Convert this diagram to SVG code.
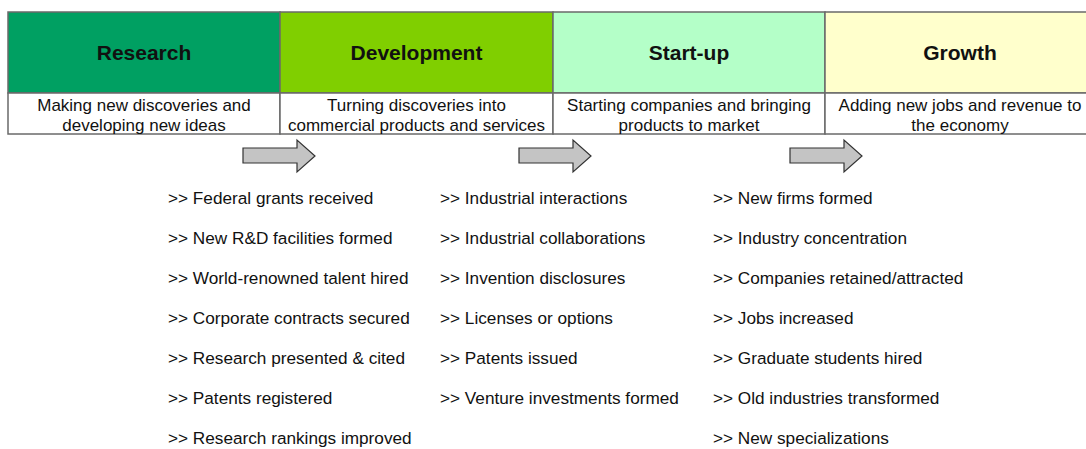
<svg xmlns="http://www.w3.org/2000/svg" width="1086" height="449" viewBox="0 0 1086 449">
<style>
.hd{font-family:"Liberation Sans",Arial,sans-serif;font-weight:bold;font-size:21px;fill:#111;text-anchor:middle}
.sub{font-family:"Liberation Sans",Arial,sans-serif;font-size:17px;fill:#111;text-anchor:middle}
.li{font-family:"Liberation Sans",Arial,sans-serif;font-size:17.2px;fill:#111}
.cell{stroke:#6a6a6a;stroke-width:1.5}
.arr{fill:#c4c4c4;stroke:#333;stroke-width:1.2}
</style>
<rect width="1086" height="449" fill="#ffffff"/>
<g id="research">
<rect class="cell" x="8" y="12" width="272" height="81" fill="#00a062"/>
<rect class="cell" x="8" y="93" width="272" height="41" fill="#ffffff"/>
<text class="hd" x="144" y="60">Research</text>
<text class="sub" x="144" y="111">Making new discoveries and</text>
<text class="sub" x="144" y="131">developing new ideas</text>
</g>
<g id="development">
<rect class="cell" x="280" y="12" width="273" height="81" fill="#80cf00"/>
<rect class="cell" x="280" y="93" width="273" height="41" fill="#ffffff"/>
<text class="hd" x="416.5" y="60">Development</text>
<text class="sub" x="416.5" y="111">Turning discoveries into</text>
<text class="sub" x="416.5" y="131">commercial products and services</text>
</g>
<g id="startup">
<rect class="cell" x="553" y="12" width="272" height="81" fill="#b4ffc8"/>
<rect class="cell" x="553" y="93" width="272" height="41" fill="#ffffff"/>
<text class="hd" x="689" y="60">Start-up</text>
<text class="sub" x="689" y="111">Starting companies and bringing</text>
<text class="sub" x="689" y="131">products to market</text>
</g>
<g id="growth">
<rect class="cell" x="825" y="12" width="280" height="81" fill="#ffffcc"/>
<rect class="cell" x="825" y="93" width="280" height="41" fill="#ffffff"/>
<text class="hd" x="960" y="60">Growth</text>
<text class="sub" x="960" y="111">Adding new jobs and revenue to</text>
<text class="sub" x="960" y="131">the economy</text>
</g>
<g id="connectors">
<polygon class="arr" points="243,148 297,148 297,140 315,156 297,172 297,163 243,163"/>
<polygon class="arr" points="519,148 573,148 573,140 591,156 573,172 573,163 519,163"/>
<polygon class="arr" points="790,148 844,148 844,140 862,156 844,172 844,163 790,163"/>
</g>
<g id="research-metrics">
<text class="li" x="168" y="204">&gt;&gt; Federal grants received</text>
<text class="li" x="168" y="244">&gt;&gt; New R&amp;D facilities formed</text>
<text class="li" x="168" y="284">&gt;&gt; World-renowned talent hired</text>
<text class="li" x="168" y="324">&gt;&gt; Corporate contracts secured</text>
<text class="li" x="168" y="364">&gt;&gt; Research presented &amp; cited</text>
<text class="li" x="168" y="404">&gt;&gt; Patents registered</text>
<text class="li" x="168" y="444">&gt;&gt; Research rankings improved</text>
</g>
<g id="development-metrics">
<text class="li" x="440" y="204">&gt;&gt; Industrial interactions</text>
<text class="li" x="440" y="244">&gt;&gt; Industrial collaborations</text>
<text class="li" x="440" y="284">&gt;&gt; Invention disclosures</text>
<text class="li" x="440" y="324">&gt;&gt; Licenses or options</text>
<text class="li" x="440" y="364">&gt;&gt; Patents issued</text>
<text class="li" x="440" y="404">&gt;&gt; Venture investments formed</text>
</g>
<g id="growth-metrics">
<text class="li" x="713" y="204">&gt;&gt; New firms formed</text>
<text class="li" x="713" y="244">&gt;&gt; Industry concentration</text>
<text class="li" x="713" y="284">&gt;&gt; Companies retained/attracted</text>
<text class="li" x="713" y="324">&gt;&gt; Jobs increased</text>
<text class="li" x="713" y="364">&gt;&gt; Graduate students hired</text>
<text class="li" x="713" y="404">&gt;&gt; Old industries transformed</text>
<text class="li" x="713" y="444">&gt;&gt; New specializations</text>
</g>
</svg>
